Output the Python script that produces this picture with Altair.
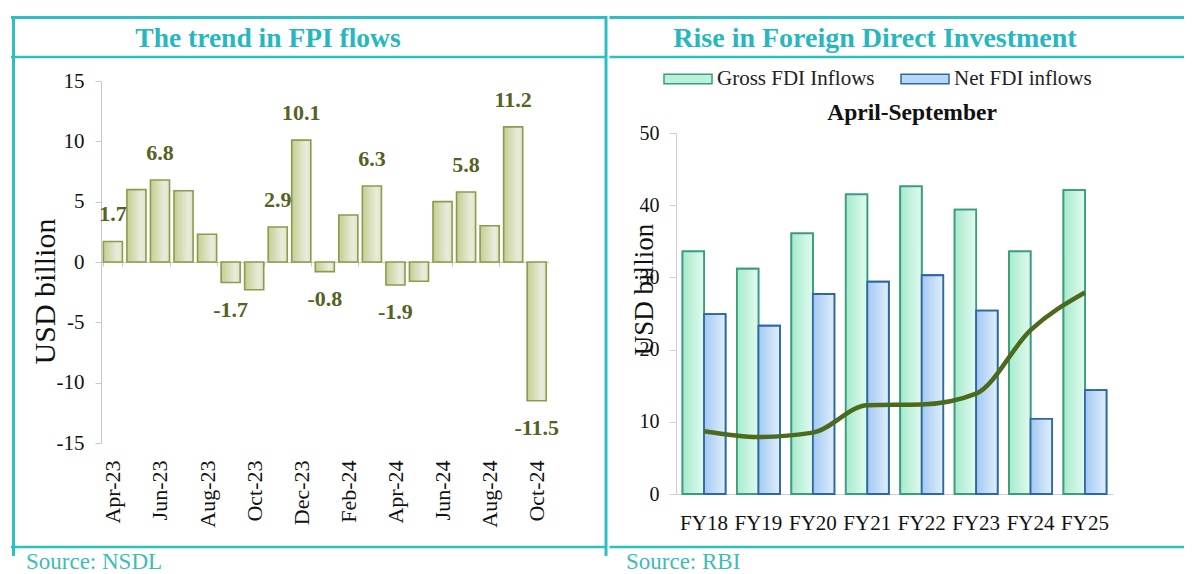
import altair as alt
import pandas as pd

# ---------------- data ----------------
months = ["Apr-23", "May-23", "Jun-23", "Jul-23", "Aug-23", "Sep-23", "Oct-23",
          "Nov-23", "Dec-23", "Jan-24", "Feb-24", "Mar-24", "Apr-24", "May-24",
          "Jun-24", "Jul-24", "Aug-24", "Sep-24", "Oct-24"]
fpi = [1.7, 6.0, 6.8, 5.9, 2.3, -1.7, -2.3, 2.9, 10.1, -0.8, 3.9, 6.3, -1.9,
       -1.6, 5.0, 5.8, 3.0, 11.2, -11.5]
labelled = ["Apr-23", "Jun-23", "Sep-23", "Nov-23", "Dec-23", "Jan-24",
            "Mar-24", "Apr-24", "Jul-24", "Sep-24", "Oct-24"]
month_ticks = months[::2]
fpi_ticks = [-15, -10, -5, 0, 5, 10, 15]

fy = ["FY18", "FY19", "FY20", "FY21", "FY22", "FY23", "FY24", "FY25"]
gross = [33.6, 31.2, 36.1, 41.5, 42.6, 39.4, 33.6, 42.1]
net = [24.9, 23.3, 27.7, 29.4, 30.3, 25.4, 10.4, 14.4]
trend = [8.7, 7.9, 8.5, 12.3, 12.4, 13.9, 22.7, 27.9]
series_names = ["Gross FDI Inflows", "Net FDI inflows"]
fdi_ticks = [0, 10, 20, 30, 40, 50]

# ---------------- style ----------------
FONT = "Liberation Serif"
TEAL = "#2dbfc6"
SRC = "#3dbdb3"
W1, W2, H = 597, 576, 540

fpi_df = pd.DataFrame({"Month": months, "Value": fpi})
fpi_df["Label"] = [f"{v:.1f}" if m in labelled else "" for m, v in zip(months, fpi)]

dec = pd.DataFrame({"k": [0]})

# ---------------- left panel ----------------
xl = alt.X("Month:N", sort=months,
           scale=alt.Scale(range=[90, 537.6], paddingInner=0.19, paddingOuter=0.1),
           axis=alt.Axis(title=None, values=month_ticks, offset=246 - H,
                         labelAngle=270, labelAlign="right", labelBaseline="middle",
                         labelPadding=194, tickSize=4, tickBand="extent",
                         tickColor="#c8c8c8", domainColor="#c8c8c8",
                         labelFont=FONT, labelFontSize=22, labelColor="#111",
                         labelOverlap=False, grid=False))
yl = alt.Y("Value:Q",
           scale=alt.Scale(domain=[-15, 15], range=[427, 65], nice=False, zero=False),
           axis=alt.Axis(values=fpi_ticks, offset=-90, title="USD billion",
                         labelExpr="'' + datum.value",
                         tickSize=6, tickColor="#c8c8c8", domainColor="#c8c8c8",
                         labelPadding=11, labelFont=FONT, labelFontSize=21,
                         labelColor="#111", grid=False,
                         titleFont=FONT, titleFontSize=30, titleFontWeight="normal",
                         titleColor="#111", titleAngle=270, titleAlign="center",
                         titleBaseline="middle", titleX=-56, titleY=275))

bar_grad = alt.LinearGradient(
    gradient="linear",
    stops=[alt.GradientStop(color="#c3cf92", offset=0),
           alt.GradientStop(color="#e9ecdc", offset=0.75),
           alt.GradientStop(color="#dfe4c8", offset=1)],
    x1=0, x2=1, y1=0, y2=0)

fpi_bars = alt.Chart(fpi_df).mark_bar(fill=bar_grad, stroke="#8d9b4a",
                                      strokeWidth=1.6).encode(x=xl, y=yl)

lab_style = dict(font=FONT, fontSize=22, fontWeight="bold", color="#56621f")
pos_lab = alt.Chart(fpi_df).transform_filter(
    "datum.Label != '' && datum.Value >= 0").mark_text(
    baseline="bottom", dy=-15, **lab_style).encode(x=xl, y=yl, text="Label:N")
neg_lab = alt.Chart(fpi_df).transform_filter(
    "datum.Label != '' && datum.Value < 0").mark_text(
    baseline="top", dy=17, **lab_style).encode(x=xl, y=yl, text="Label:N")


def hline(y, x1, x2, w):
    return alt.Chart(dec).mark_rule(color=TEAL, strokeWidth=w).encode(
        x=alt.value(x1), x2=alt.value(x2), y=alt.value(y))


def vline(x, y1, y2, w):
    return alt.Chart(dec).mark_rule(color=TEAL, strokeWidth=w).encode(
        x=alt.value(x), y=alt.value(y1), y2=alt.value(y2))


def label(txt, x, y, size, color, weight="normal", align="center",
          baseline="middle"):
    return alt.Chart(dec).mark_text(font=FONT, fontSize=size, fontWeight=weight,
                                    color=color, align=align,
                                    baseline=baseline).encode(
        x=alt.value(x), y=alt.value(y), text=alt.value(txt))


left = alt.layer(
    hline(1.5, 0, W1 - 2, 3), hline(41, 0, W1 - 2, 2.5), hline(531, 0, W1 - 2, 2.5),
    vline(2.5, 0, H, 3), vline(W1 - 2, 0, H, 3),
    label("The trend in FPI flows", 257, 23, 27.5, "#27b7c0", "bold"),
    label("Source: NSDL", 15, 535, 23, SRC, align="left", baseline="top"),
    fpi_bars, pos_lab, neg_lab,
).properties(width=W1, height=H)

# ---------------- right panel ----------------
fdi_df = pd.DataFrame({"FY": fy * 2,
                       "Series": [series_names[0]] * len(fy) + [series_names[1]] * len(fy),
                       "Value": gross + net})
trend_df = pd.DataFrame({"FY": fy, "Value": trend})

xr = alt.X("FY:N", sort=fy,
           scale=alt.Scale(range=[68, 505], paddingInner=0.21, paddingOuter=0.12),
           axis=alt.Axis(title=None, offset=478 - H, ticks=False, labelAngle=0,
                         labelPadding=18, domainColor="#d0d0d0",
                         labelFont=FONT, labelFontSize=21, labelColor="#111",
                         grid=False))
yr = alt.Y("Value:Q",
           scale=alt.Scale(domain=[0, 50], range=[478, 117], nice=False),
           axis=alt.Axis(values=fdi_ticks, offset=-68, title="USD billion",
                         tickSize=7, tickColor="#d0d0d0", domainColor="#d0d0d0",
                         labelPadding=10, labelFont=FONT, labelFontSize=20,
                         labelColor="#111", grid=False,
                         titleFont=FONT, titleFontSize=27, titleFontWeight="normal",
                         titleColor="#111", titleAngle=270, titleAlign="center",
                         titleBaseline="middle", titleX=-32, titleY=273))
xo = alt.XOffset("Series:N", sort=series_names, scale=alt.Scale(paddingInner=0))

leg = alt.Legend(title=None, orient="none", legendX=W1 + 55, legendY=38,
                 direction="horizontal", padding=0,
                 symbolType="M-1,-0.2H1V0.2H-1Z", symbolSize=2304,
                 symbolStrokeWidth=1.5, labelFont=FONT, labelFontSize=21,
                 labelColor="#222", labelOffset=4, columnPadding=23,
                 labelLimit=400)

fill_scale = alt.Scale(domain=series_names, range=["#b9f1d9", "#b7d6f6"])
stroke_scale = alt.Scale(domain=series_names, range=["#3a9c80", "#2d68a6"])

fdi_plain = alt.Chart(fdi_df).mark_bar(strokeWidth=1.8).encode(
    x=xr, xOffset=xo, y=yr,
    fill=alt.Fill("Series:N", scale=fill_scale, legend=leg, sort=series_names),
    stroke=alt.Stroke("Series:N", scale=stroke_scale, legend=leg, sort=series_names))

g_gross = alt.LinearGradient(
    gradient="linear",
    stops=[alt.GradientStop(color="#a6ebcc", offset=0),
           alt.GradientStop(color="#e2faef", offset=1)],
    x1=0, x2=1, y1=0, y2=0)
g_net = alt.LinearGradient(
    gradient="linear",
    stops=[alt.GradientStop(color="#a2c9f2", offset=0),
           alt.GradientStop(color="#e0eefc", offset=1)],
    x1=0, x2=1, y1=0, y2=0)
is_gross = alt.datum.Series == series_names[0]

fdi_grad = alt.Chart(fdi_df).mark_bar(strokeWidth=1.8).encode(
    x=xr, xOffset=xo, y=yr,
    fill=alt.condition(is_gross, alt.value(g_gross), alt.value(g_net)),
    stroke=alt.condition(is_gross, alt.value("#3a9c80"), alt.value("#2d68a6")))

trend_line = alt.Chart(trend_df).mark_line(
    color="#4b6a1d", strokeWidth=4.5, interpolate="monotone").encode(x=xr, y=yr)

right = alt.layer(
    hline(1.5, 1.5, W2, 3), hline(41, 1.5, W2, 2.5), hline(531, 1.5, W2, 2.5),
    label("Rise in Foreign Direct Investment", 267, 23, 28, "#27b7c0", "bold"),
    label("April-September", 304, 97, 23.5, "#111", "bold"),
    label("Source: RBI", 18, 535, 23, SRC, align="left", baseline="top"),
    fdi_plain, fdi_grad, trend_line,
).properties(width=W2, height=H)

chart = alt.hconcat(left, right, spacing=0).configure_view(stroke=None).properties(
    padding={"left": -8, "top": 6, "right": 0, "bottom": 0})

chart.save("out.html", embed_options={"renderer": "svg", "actions": False})
